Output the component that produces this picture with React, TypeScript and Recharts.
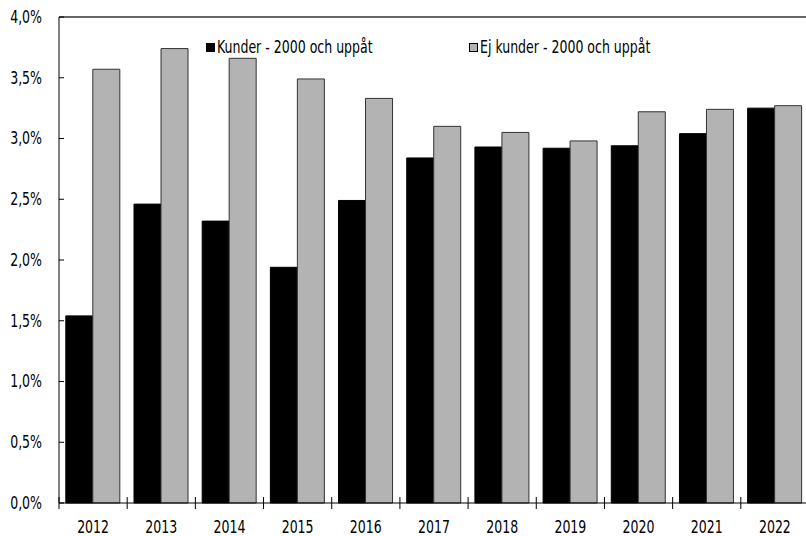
import React from "react";
import { Bar, BarChart, ReferenceLine, XAxis, YAxis } from "recharts";

const YEARS = ["2012", "2013", "2014", "2015", "2016", "2017", "2018", "2019", "2020", "2021", "2022"];
const KUNDER = [1.54, 2.46, 2.32, 1.94, 2.49, 2.84, 2.93, 2.92, 2.94, 3.04, 3.25];
const EJ_KUNDER = [3.57, 3.74, 3.66, 3.49, 3.33, 3.1, 3.05, 2.98, 3.22, 3.24, 3.27];
const Y_TICKS = [0, 0.5, 1, 1.5, 2, 2.5, 3, 3.5, 4];
const SERIES_NAMES = ["Kunder - 2000 och uppåt", "Ej kunder - 2000 och uppåt"];

const FONT = "'Liberation Sans Narrow', 'DejaVu Sans Condensed', sans-serif";
const BLACK = "#000000";
const GREY = "#b3b3b3";
const SQUEEZE = 0.82;

const data = YEARS.map((year, i) => ({ year, kunder: KUNDER[i], ejKunder: EJ_KUNDER[i] }));

const fmt = (v: number) => v.toFixed(1).replace(".", ",") + "%";

function YearTick(props: any) {
  const { x, y, payload, index } = props;
  const half = payload.offset ?? 0;
  const last = index === YEARS.length - 1;
  const axisY = y - 8;
  return (
    <g>
      <line x1={x - half} x2={x - half} y1={axisY - 6} y2={axisY + 6} stroke="#000" />
      {last && <line x1={x + half} x2={x + half} y1={axisY - 6} y2={axisY + 6} stroke="#000" />}
      <text
        x={x}
        y={axisY + 30}
        textAnchor="middle"
        fontSize={17}
        fontFamily={FONT}
        fill="#000"
        transform={`translate(${x},0) scale(${SQUEEZE},1) translate(${-x},0)`}
      >
        {payload.value}
      </text>
    </g>
  );
}

function ValueTick(props: any) {
  const { x, y, payload } = props;
  return (
    <text
      x={x}
      y={y}
      dy={6}
      textAnchor="end"
      fontSize={17}
      fontFamily={FONT}
      fill="#000"
      transform={`translate(${x},0) scale(${SQUEEZE},1) translate(${-x},0)`}
    >
      {fmt(payload.value)}
    </text>
  );
}

function LegendBox() {
  const item = (color: string, label: string, width: number) => (
    <div style={{ display: "flex", alignItems: "center", width }}>
      <span
        style={{
          display: "inline-block",
          width: 7,
          height: 7,
          background: color,
          border: "1px solid #000",
          marginRight: 2,
        }}
      />
      <span style={{ display: "inline-block", transform: `scaleX(${SQUEEZE})`, transformOrigin: "left center" }}>
        {label}
      </span>
    </div>
  );
  return (
    <div
      style={{
        position: "absolute",
        left: 206,
        top: 37,
        display: "flex",
        fontFamily: FONT,
        fontSize: 17,
        color: "#000",
        whiteSpace: "nowrap",
      }}
    >
      {item(BLACK, SERIES_NAMES[0], 263)}
      {item(GREY, SERIES_NAMES[1], 280)}
    </div>
  );
}

export default function App() {
  return (
    <div style={{ position: "absolute", left: 0, top: 0, width: 806, height: 536, overflow: "hidden", background: "#fff" }}>
      <BarChart
        width={810}
        height={536}
        data={data}
        margin={{ top: 17, right: 1, left: 0, bottom: 0 }}
        barCategoryGap="10%"
        barGap={0}
      >
        <XAxis
          dataKey="year"
          height={33}
          axisLine={{ stroke: "#000" }}
          tickLine={false}
          tick={<YearTick />}
          interval={0}
        />
        <YAxis
          width={59}
          domain={[0, 4]}
          ticks={Y_TICKS}
          axisLine={{ stroke: "#000" }}
          tickLine={{ stroke: "#000" }}
          tickSize={-5}
          tickMargin={22}
          tick={<ValueTick />}
        />
        <ReferenceLine y={4} stroke="#333" strokeWidth={1.5} />
        <Bar name={SERIES_NAMES[0]} dataKey="kunder" fill={BLACK} stroke="#000" strokeWidth={1} isAnimationActive={false} />
        <Bar name={SERIES_NAMES[1]} dataKey="ejKunder" fill={GREY} stroke="#333" strokeWidth={1} isAnimationActive={false} />
      </BarChart>
      <LegendBox />
    </div>
  );
}
